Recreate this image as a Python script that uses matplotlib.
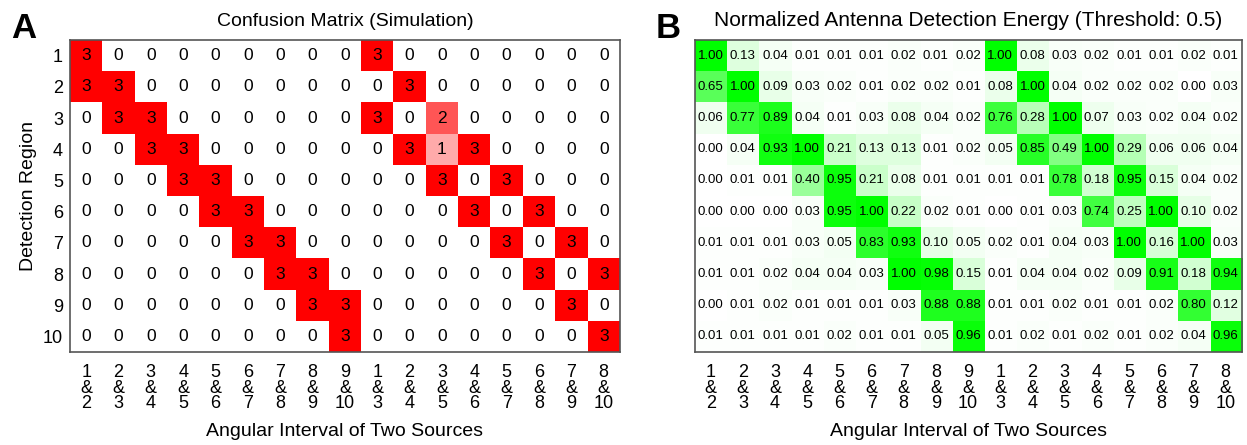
import numpy as np
import matplotlib.pyplot as plt
from matplotlib.colors import LinearSegmentedColormap

plt.rcParams['font.family'] = ['Liberation Sans', 'DejaVu Sans']

regions = [str(i) for i in range(1, 11)]
pairs = ['1\n&\n2', '2\n&\n3', '3\n&\n4', '4\n&\n5', '5\n&\n6', '6\n&\n7', '7\n&\n8',
         '8\n&\n9', '9\n&\n10', '1\n&\n3', '2\n&\n4', '3\n&\n5', '4\n&\n6', '5\n&\n7',
         '6\n&\n8', '7\n&\n9', '8\n&\n10']

confusion = np.array([
    [3, 0, 0, 0, 0, 0, 0, 0, 0, 3, 0, 0, 0, 0, 0, 0, 0],
    [3, 3, 0, 0, 0, 0, 0, 0, 0, 0, 3, 0, 0, 0, 0, 0, 0],
    [0, 3, 3, 0, 0, 0, 0, 0, 0, 3, 0, 2, 0, 0, 0, 0, 0],
    [0, 0, 3, 3, 0, 0, 0, 0, 0, 0, 3, 1, 3, 0, 0, 0, 0],
    [0, 0, 0, 3, 3, 0, 0, 0, 0, 0, 0, 3, 0, 3, 0, 0, 0],
    [0, 0, 0, 0, 3, 3, 0, 0, 0, 0, 0, 0, 3, 0, 3, 0, 0],
    [0, 0, 0, 0, 0, 3, 3, 0, 0, 0, 0, 0, 0, 3, 0, 3, 0],
    [0, 0, 0, 0, 0, 0, 3, 3, 0, 0, 0, 0, 0, 0, 3, 0, 3],
    [0, 0, 0, 0, 0, 0, 0, 3, 3, 0, 0, 0, 0, 0, 0, 3, 0],
    [0, 0, 0, 0, 0, 0, 0, 0, 3, 0, 0, 0, 0, 0, 0, 0, 3],
])

energy = np.array([
    [1.00, 0.13, 0.04, 0.01, 0.01, 0.01, 0.02, 0.01, 0.02, 1.00, 0.08, 0.03, 0.02, 0.01, 0.01, 0.02, 0.01],
    [0.65, 1.00, 0.09, 0.03, 0.02, 0.01, 0.02, 0.02, 0.01, 0.08, 1.00, 0.04, 0.02, 0.02, 0.02, 0.00, 0.03],
    [0.06, 0.77, 0.89, 0.04, 0.01, 0.03, 0.08, 0.04, 0.02, 0.76, 0.28, 1.00, 0.07, 0.03, 0.02, 0.04, 0.02],
    [0.00, 0.04, 0.93, 1.00, 0.21, 0.13, 0.13, 0.01, 0.02, 0.05, 0.85, 0.49, 1.00, 0.29, 0.06, 0.06, 0.04],
    [0.00, 0.01, 0.01, 0.40, 0.95, 0.21, 0.08, 0.01, 0.01, 0.01, 0.01, 0.78, 0.18, 0.95, 0.15, 0.04, 0.02],
    [0.00, 0.00, 0.00, 0.03, 0.95, 1.00, 0.22, 0.02, 0.01, 0.00, 0.01, 0.03, 0.74, 0.25, 1.00, 0.10, 0.02],
    [0.01, 0.01, 0.01, 0.03, 0.05, 0.83, 0.93, 0.10, 0.05, 0.02, 0.01, 0.04, 0.03, 1.00, 0.16, 1.00, 0.03],
    [0.01, 0.01, 0.02, 0.04, 0.04, 0.03, 1.00, 0.98, 0.15, 0.01, 0.04, 0.04, 0.02, 0.09, 0.91, 0.18, 0.94],
    [0.00, 0.01, 0.02, 0.01, 0.01, 0.01, 0.03, 0.88, 0.88, 0.01, 0.01, 0.02, 0.01, 0.01, 0.02, 0.80, 0.12],
    [0.01, 0.01, 0.01, 0.01, 0.02, 0.01, 0.01, 0.05, 0.96, 0.01, 0.02, 0.01, 0.02, 0.01, 0.02, 0.04, 0.96],
])

reds = LinearSegmentedColormap.from_list('wr', ['#ffffff', '#ff0000'])
greens = LinearSegmentedColormap.from_list('wg', ['#ffffff', '#00ff00'])

fig = plt.figure(figsize=(12.47, 4.45), dpi=100)
axA = fig.add_axes([0.0561, 0.209, 0.441, 0.701])
axB = fig.add_axes([0.557, 0.209, 0.4387, 0.701])


def draw(ax, data, cmap, vmax, fmt, fs, title, title_fs):
    ax.imshow(data, cmap=cmap, vmin=0, vmax=vmax, aspect='auto', interpolation='nearest')
    for i in range(data.shape[0]):
        for j in range(data.shape[1]):
            ax.text(j, i, fmt.format(data[i, j]), ha='center', va='center', fontsize=fs)
    ax.set_xticks(range(len(pairs)))
    ax.set_xticklabels(pairs, fontsize=13, linespacing=0.85)
    ax.tick_params(length=0, pad=9)
    ax.set_title(title, fontsize=title_fs, pad=10)
    ax.set_xlabel('Angular Interval of Two Sources', fontsize=14, labelpad=8)
    for s in ax.spines.values():
        s.set_color('#555555')
        s.set_linewidth(1.2)


draw(axA, confusion, reds, 3, '{:d}', 12.5, 'Confusion Matrix (Simulation)', 14)
axA.set_yticks(range(len(regions)))
axA.set_yticklabels(regions, fontsize=13)
axA.tick_params(axis='y', pad=5)
axA.set_ylabel('Detection Region', fontsize=14, labelpad=4)

draw(axB, energy, greens, 1, '{:.2f}', 9.5, 'Normalized Antenna Detection Energy (Threshold: 0.5)', 15)
axB.set_yticks([])

fig.text(0.009, 0.915, 'A', fontsize=25, fontweight='bold')
fig.text(0.526, 0.915, 'B', fontsize=25, fontweight='bold')

fig.savefig('out.png', dpi=100)
